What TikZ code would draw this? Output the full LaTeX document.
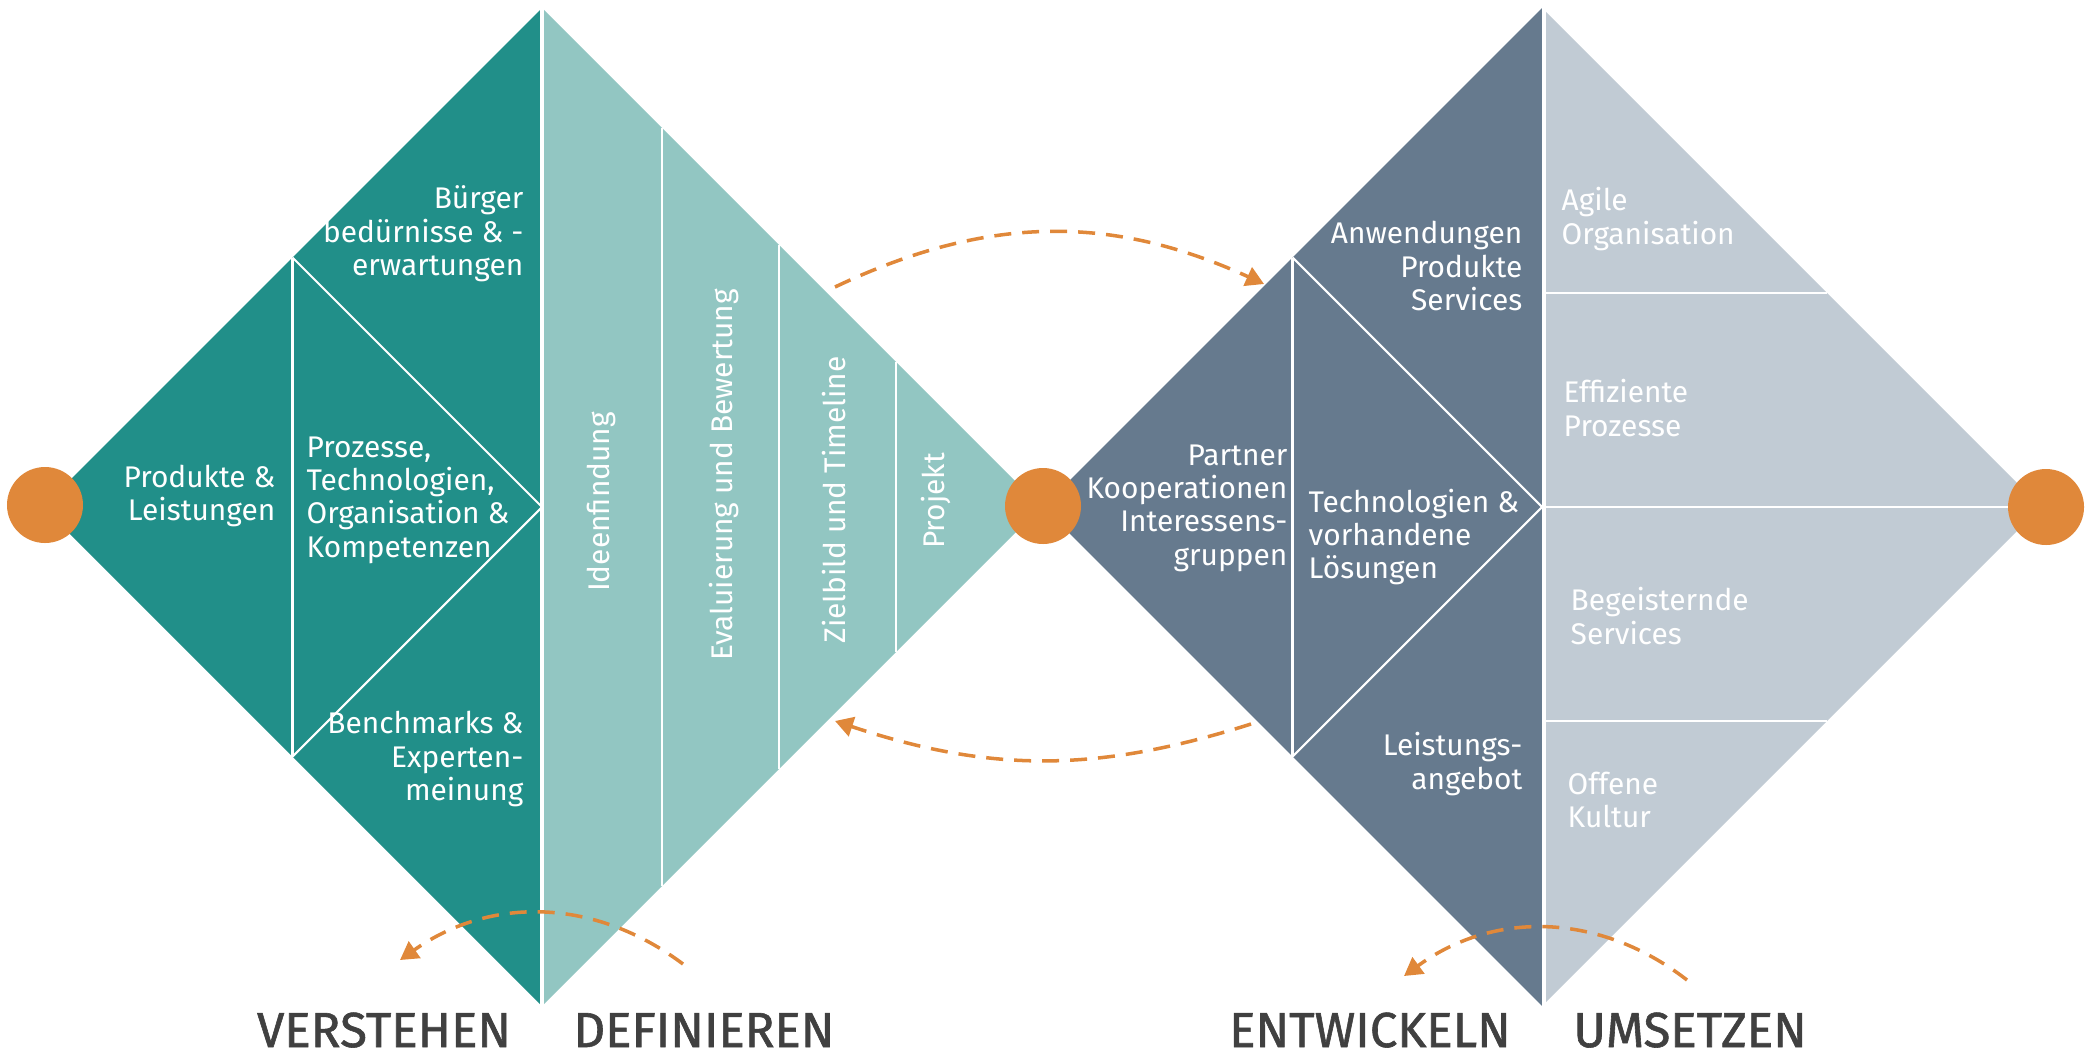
\documentclass[tikz,border=0pt]{standalone}
\usepackage{fontspec}
\setmainfont{Fira Sans}
\newfontfamily\titlefont[FakeBold=1.2]{Fira Sans}
\usetikzlibrary{arrows.meta}

\definecolor{tealdark}{HTML}{218F89}
\definecolor{teallight}{HTML}{92C6C2}
\definecolor{slatedark}{HTML}{667A8E}
\definecolor{slatelight}{HTML}{C1CBD4}
\definecolor{dotorange}{HTML}{E0883A}
\definecolor{titlegray}{HTML}{404040}

\tikzset{
    fieldtext/.style = {text = white, font = \fontsize{8.5}{9.5}\selectfont, inner sep = 0pt},
    phasetitle/.style = {text = titlegray, font = \titlefont\fontsize{14}{16}\selectfont, anchor = base},
    divider/.style = {draw = white, line width = 0.6pt},
    loopback/.style = {draw = dotorange, line width = 1pt, dash pattern = on 1.7mm off 1.1mm,
        -{Triangle[length = 1.8mm, width = 2mm]}}
}

\begin{document}
\begin{tikzpicture}
                \useasboundingbox (0,0) rectangle (20.91,10.58);
                % verstehen / definieren
                \fill[tealdark] (5.42,10.50) -- (0.43,5.51) -- (5.42,0.52) -- cycle;
                \fill[teallight] (5.42,10.50) -- (10.41,5.51) -- (5.42,0.52) -- cycle;
                \draw[white, line width = 0.9pt] (5.42,10.6) -- (5.42,0.4);
                \draw[divider] (2.925,8.005) -- (2.925,3.015);
                \draw[divider] (2.925,8.005) -- (5.42,5.51) -- (2.925,3.015);
                \draw[divider] (6.62,9.30) -- (6.62,1.72);
                \draw[divider] (7.79,8.13) -- (7.79,2.89);
                \draw[divider] (8.96,6.96) -- (8.96,4.06);
                % entwickeln / umsetzen
                \fill[slatedark] (15.42,10.50) -- (10.43,5.51) -- (15.42,0.52) -- cycle;
                \fill[slatelight] (15.42,10.50) -- (20.41,5.51) -- (15.42,0.52) -- cycle;
                \draw[white, line width = 1.4pt] (15.44,10.6) -- (15.44,0.4);
                \draw[divider] (12.925,8.005) -- (12.925,3.015);
                \draw[divider] (12.925,8.005) -- (15.42,5.51) -- (12.925,3.015);
                \draw[divider] (15.42,7.65) -- (18.27,7.65);
                \draw[divider] (15.42,5.51) -- (20.41,5.51);
                \draw[divider] (15.42,3.37) -- (18.27,3.37);
                % orange dots
                \fill[dotorange] (0.45,5.53) circle (0.38);
                \fill[dotorange] (10.43,5.52) circle (0.38);
                \fill[dotorange] (20.46,5.51) circle (0.38);

                \node[fieldtext, align = right, anchor = east] (buerger) at (5.24,8.24) {Bürger\\bedürnisse \& -\\erwartungen};
                \node[fieldtext, align = right, anchor = east] (produkte) at (2.76,5.62) {Produkte \&\\Leistungen};
                \node[fieldtext, align = left, anchor = west] (prozesse) at (3.06,5.58) {Prozesse,\\Technologien,\\Organisation \&\\Kompetenzen};
                \node[fieldtext, align = right, anchor = east] (benchmarks) at (5.24,2.99) {Benchmarks \&\\Experten-\\meinung};
                \node[fieldtext, rotate = 90] (ideen) at (6.01,5.56) {Ideenfindung};
                \node[fieldtext, rotate = 90] (evaluierung) at (7.24,5.83) {Evaluierung und Bewertung};
                \node[fieldtext, rotate = 90] (zielbild) at (8.34,5.58) {Zielbild und Timeline};
                \node[fieldtext, rotate = 90] (projekt) at (9.36,5.57) {Projekt};

                \node[fieldtext, align = right, anchor = east] (anwendungen) at (15.23,7.92) {Anwendungen\\Produkte\\Services};
                \node[fieldtext, align = right, anchor = east] (partner) at (12.88,5.50) {Partner\\Kooperationen\\Interessens-\\gruppen};
                \node[fieldtext, align = left, anchor = west] (technologien) at (13.08,5.21) {Technologien \&\\vorhandene\\Lösungen};
                \node[fieldtext, align = right, anchor = east] (leistung) at (15.23,2.94) {Leistungs-\\angebot};
                \node[fieldtext, align = left, anchor = west] (agile) at (15.61,8.39) {Agile\\Organisation};
                \node[fieldtext, align = left, anchor = west] (effizient) at (15.63,6.50) {Effiziente\\Prozesse};
                \node[fieldtext, align = left, anchor = west] (begeistert) at (15.70,4.42) {Begeisternde\\Services};
                \node[fieldtext, align = left, anchor = west] (offen) at (15.67,2.58) {Offene\\Kultur};

                \node[phasetitle] (verstehen) at (3.84,0.11) {VERSTEHEN};
                \node[phasetitle] (definieren) at (7.04,0.11) {DEFINIEREN};
                \node[phasetitle] (entwickeln) at (13.70,0.11) {ENTWICKELN};
                \node[phasetitle] (umsetzen) at (16.90,0.11) {UMSETZEN};

                % dashed loops
                \coordinate (fwdstart) at (8.35,7.71);
                \coordinate (fwdend) at (12.64,7.74);
                \coordinate (backstart) at (12.51,3.34);
                \coordinate (backend) at (8.35,3.37);
                \coordinate (leftstart) at (6.83,0.94);
                \coordinate (leftend) at (4.00,0.98);
                \coordinate (rightstart) at (16.87,0.78);
                \coordinate (rightend) at (14.04,0.82);
                \draw[loopback] (fwdstart) to[bend left = 25] (fwdend);
                \draw[loopback] (backstart) to[bend left = 18] (backend);
                \draw[loopback] (leftstart) to[bend right = 36] (leftend);
                \draw[loopback] (rightstart) to[bend right = 37] (rightend);
            \end{tikzpicture}
\end{document}
